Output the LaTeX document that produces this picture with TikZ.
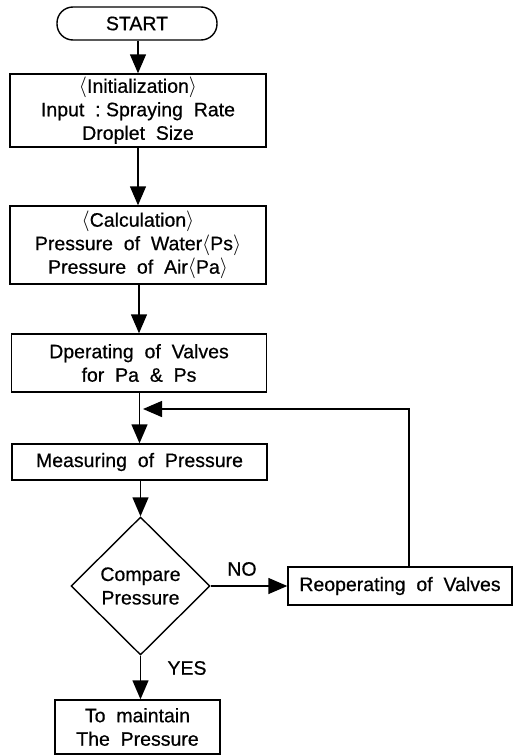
\documentclass[tikz,border=0pt]{standalone}
\usepackage{fontspec}
\setmainfont[FakeBold=0.6]{Liberation Sans}
\usetikzlibrary{arrows.meta,shapes.geometric}
\begin{document}
\begin{tikzpicture}[x=1pt,y=-1pt,
  every node/.style={font=\fontsize{19.5}{23.5}\selectfont, align=center, inner sep=0pt},
  box/.style={draw, line width=1.4pt, rectangle},
  term/.style={draw, line width=1.4pt, rectangle, rounded corners=16pt},
  dec/.style={draw, line width=1.4pt, diamond, aspect=1},
  flow/.style={line width=1.4pt, -{Triangle[length=19pt,width=16pt]}},
  lbl/.style={font=\fontsize{19.5}{23.5}\selectfont}
]
\useasboundingbox (0,0) rectangle (525,755);
\node[term, minimum width=160pt, minimum height=33pt] (start) at (137,23.5) {START};
\node[box, minimum width=256pt, minimum height=73pt] (init) at (138,110.5)
  {$\langle$Initialization$\rangle$\\Input\ \ :\ Spraying\ \ Rate\\Droplet\ \ Size};
\node[box, minimum width=256pt, minimum height=78pt] (calc) at (138,245)
  {$\langle$Calculation$\rangle$\\Pressure\ \ of\ \ Water$\langle$Ps$\rangle$\\Pressure\ \ of\ \ Air$\langle$Pa$\rangle$};
\node[box, minimum width=255pt, minimum height=58pt] (oper) at (139,363)
  {Dperating\ \ of\ \ Valves\\for\ \ Pa\ \ \&\ \ Ps};
\node[box, minimum width=255pt, minimum height=36pt] (meas) at (139.5,462)
  {Measuring\ \ of\ \ Pressure};
\node[dec, minimum width=139pt, minimum height=138pt] (cmp) at (140.5,586)
  {Compare\\Pressure};
\node[box, minimum width=224pt, minimum height=38pt] (reop) at (400,586)
  {Reoperating\ \ of\ \ Valves};
\node[box, minimum width=165pt, minimum height=54pt] (fin) at (137.5,727)
  {To\ \ maintain\\The\ \ Pressure};
\node[lbl] (no) at (242,569) {NO};
\node[lbl] (yes) at (187,668) {YES};
\coordinate (jn) at (143,409);
\draw[flow] (start.south -| init.north) -- (init.north);
\draw[flow] (init.south) -- (init.south |- calc.north);
\draw[flow] (calc.south -| oper.north) -- (oper.north);
\draw[flow] (oper.south -| meas.north) -- (meas.north);
\draw[flow] (meas.south -| cmp.north) -- (cmp.north);
\draw[flow] (cmp.east) -- (reop.west);
\draw[flow] (reop.north -| 409,0) |- (jn);
\draw[flow] (cmp.south) -- (cmp.south |- fin.north);
\end{tikzpicture}
\end{document}
